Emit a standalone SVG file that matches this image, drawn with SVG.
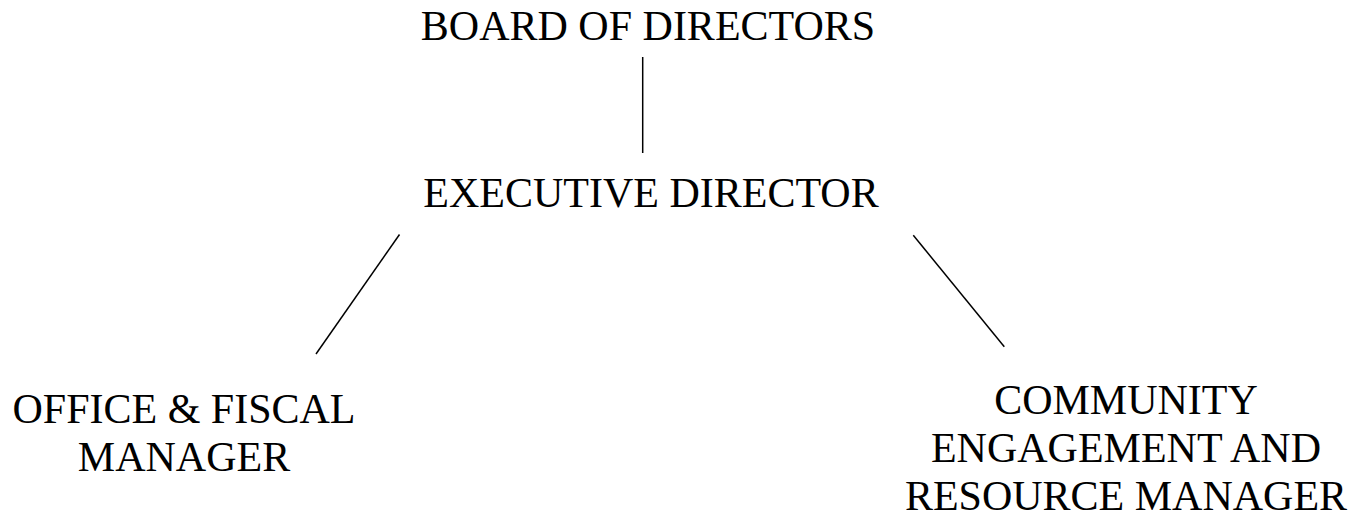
<svg xmlns="http://www.w3.org/2000/svg" width="1371" height="519" viewBox="0 0 1371 519">
<style>
.t{font-family:"Liberation Serif","Times New Roman",serif;font-size:42px;fill:#000;text-anchor:middle}
.c{stroke:#000;stroke-width:1.5;fill:none}
</style>
<rect width="1371" height="519" fill="#fff"/>
<g id="connectors">
<line class="c" x1="642.7" y1="57" x2="642.7" y2="153"/>
<line class="c" x1="399.5" y1="234.5" x2="316" y2="354"/>
<line class="c" x1="913.3" y1="235.3" x2="1004.3" y2="346.7"/>
</g>
<g id="board"><text class="t" x="648" y="39.5">BOARD OF DIRECTORS</text></g>
<g id="executive"><text class="t" x="651" y="207">EXECUTIVE DIRECTOR</text></g>
<g id="office"><text class="t" x="184" y="422.5">OFFICE &amp; FISCAL</text><text class="t" x="184" y="470.5">MANAGER</text></g>
<g id="community"><text class="t" x="1126" y="413.5">COMMUNITY</text><text class="t" x="1126" y="461.5">ENGAGEMENT AND</text><text class="t" x="1126" y="510">RESOURCE MANAGER</text></g>
</svg>
